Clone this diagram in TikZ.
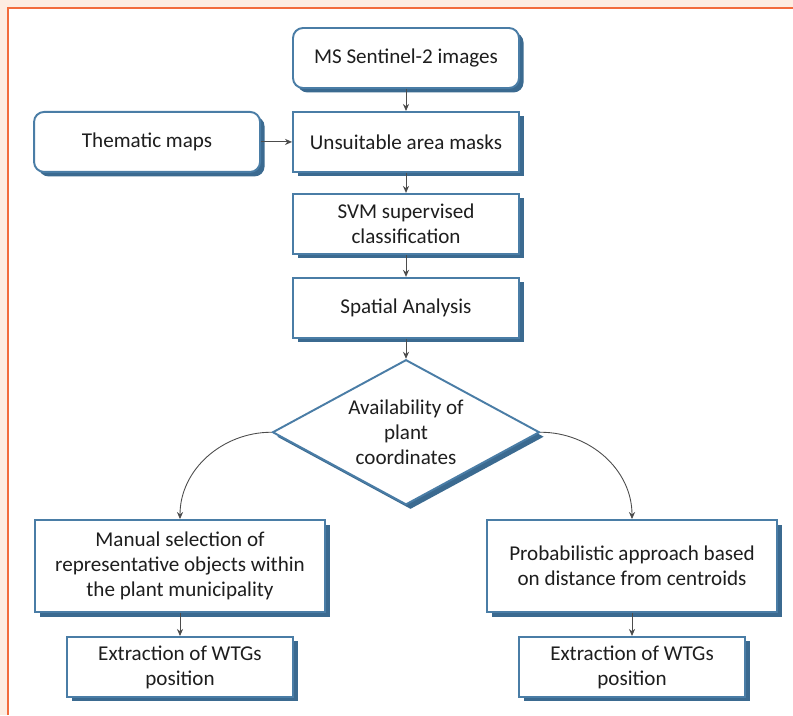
\documentclass[tikz,border=0pt]{standalone}
\usepackage{fontspec}
\setmainfont{Carlito}
\usepackage{tikz}
\usetikzlibrary{shapes.geometric, arrows.meta, positioning, shadows}
\definecolor{boxblue}{HTML}{4A7DA6}
\definecolor{shadeblue}{HTML}{3B6A90}
\definecolor{framepeach}{HTML}{FDEDE2}
\definecolor{frameorange}{HTML}{F26C3C}
\definecolor{textgray}{HTML}{1E1E1E}

\begin{document}
\begin{tikzpicture}[
    font=\fontsize{12}{14.2}\selectfont,
    node distance=0.44cm and 0.62cm,
    boxshadow/.style={drop shadow={shadow xshift=0.09cm, shadow yshift=-0.09cm, fill=shadeblue, opacity=1}},
    block/.style={rectangle, draw=boxblue, fill=white, line width=1.1pt, text=textgray, align=center, minimum width=4.52cm, minimum height=1.2cm, inner sep=2pt, boxshadow},
    rblock/.style={block, rounded corners=0.2cm},
    wideblock/.style={block, minimum width=5.8cm, minimum height=1.84cm},
    decision/.style={diamond, aspect=1.84, draw=boxblue, fill=white, line width=1.1pt, text=textgray, align=center, minimum width=5.34cm, minimum height=2.9cm, inner sep=0pt, boxshadow},
    arrow/.style={-{Stealth[length=4pt, width=3.5pt]}, draw=black!70, line width=0.5pt}
]

% Frame
\useasboundingbox (0,0) rectangle (15.86,-14.3);
\fill[framepeach] (0,0) rectangle (15.86,-14.3);
\fill[white] (0.16,-0.16) rectangle (15.86,-14.3);
\draw[frameorange, line width=1pt] (0.16,-14.3) -- (0.16,-0.16) -- (15.86,-0.16);

% Nodes
\node[rblock] (sentinel) at (8.12,-1.16) {MS Sentinel-2 images};
\node[block, below=of sentinel] (masks) {Unsuitable area masks};
\node[rblock, left=of masks] (thematic) {Thematic maps};
\node[block, below=0.4cm of masks] (svm) {SVM supervised\\classification};
\node[block, below=of svm] (spatial) {Spatial Analysis};
\node[decision, below=0.4cm of spatial] (coords) {Availability of\\plant\\coordinates};

\node[wideblock] (manual) at (3.6,-11.32) {Manual selection of\\representative objects within\\the plant municipality};
\node[block, below=0.46cm of manual] (extractl) {Extraction of WTGs\\position};
\node[wideblock] (prob) at (12.64,-11.32) {Probabilistic approach based\\on distance from centroids};
\node[block, below=0.46cm of prob] (extractr) {Extraction of WTGs\\position};

% Arrows
\draw[arrow] (sentinel) -- (masks);
\draw[arrow] (thematic) -- (masks);
\draw[arrow] (masks) -- (svm);
\draw[arrow] (svm) -- (spatial);
\draw[arrow] (spatial) -- (coords);
\draw[arrow] (coords.west) to[out=180, in=90] (manual.north);
\draw[arrow] (coords.east) to[out=0, in=90] (prob.north);
\draw[arrow] (manual) -- (extractl);
\draw[arrow] (prob) -- (extractr);

\end{tikzpicture}
\end{document}
